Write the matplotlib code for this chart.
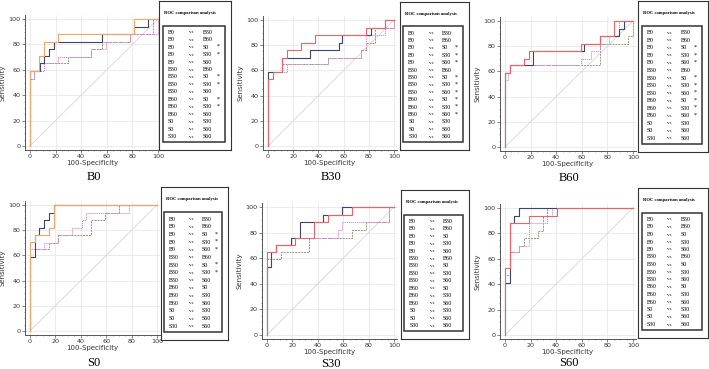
import matplotlib
matplotlib.use("Agg")
import matplotlib.pyplot as plt
from matplotlib.patches import Rectangle
from matplotlib.ticker import MultipleLocator

W, H = 709, 369

panel_names = ["B0", "B30", "B60", "S0", "S30", "S60"]

# ROC curve corners: x = 100-Specificity, y = Sensitivity
# order of curves in each panel: dark, warm, pink dotted, olive dashed
b0_fpr = [[0, 0, 8, 11, 15, 19, 56, 81, 92, 100],
          [0, 0, 7, 11, 22, 81, 100],
          [0, 0, 3, 11, 22, 48, 59, 78, 100],
          [0, 0, 3, 8, 30, 48, 56, 78, 96, 100]]
b0_tpr = [[0, 59, 65, 71, 76, 82, 88, 94, 100, 100],
          [0, 59, 71, 82, 88, 100, 100],
          [0, 53, 59, 65, 70, 76, 82, 88, 100],
          [0, 53, 59, 65, 70, 76, 82, 88, 100, 100]]

b30_fpr = [[0, 0, 11, 33, 56, 59, 78, 82, 93, 100],
           [0, 0, 4, 11, 15, 26, 37, 78, 93, 100],
           [0, 0, 4, 15, 48, 74, 78, 93, 100],
           [0, 0, 11, 41, 48, 74, 78, 85, 100]]
b30_tpr = [[0, 59, 70, 76, 82, 88, 88, 94, 100, 100],
           [0, 53, 59, 70, 76, 82, 88, 94, 100, 100],
           [0, 53, 59, 65, 70, 76, 88, 94, 100],
           [0, 59, 65, 65, 70, 76, 82, 94, 100]]

b60_fpr = [[0, 0, 4, 22, 62, 74, 89, 93, 100],
           [0, 0, 4, 15, 19, 59, 74, 85, 100],
           [0, 0, 2, 4, 59, 67, 74, 81, 89, 100],
           [0, 0, 4, 74, 96, 100]]
b60_tpr = [[0, 59, 65, 76, 82, 88, 94, 100, 100],
           [0, 59, 65, 70, 76, 82, 88, 100, 100],
           [0, 53, 59, 65, 70, 76, 82, 88, 100, 100],
           [0, 59, 65, 82, 88, 100]]

s0_fpr = [[0, 0, 4, 7, 11, 15, 19, 100],
          [0, 0, 4, 15, 19, 100],
          [0, 0, 11, 22, 33, 41, 44, 78, 100],
          [0, 0, 4, 15, 22, 48, 59, 70, 100]]
s0_tpr = [[0, 59, 76, 82, 88, 94, 100, 100],
          [0, 71, 76, 82, 100, 100],
          [0, 65, 70, 76, 82, 88, 94, 100, 100],
          [0, 59, 65, 70, 76, 88, 94, 100, 100]]

s30_fpr = [[0, 0, 3, 7, 19, 26, 44, 59, 100],
           [0, 0, 7, 22, 37, 48, 67, 100],
           [0, 0, 7, 22, 56, 59, 96, 100],
           [0, 0, 11, 33, 67, 78, 96, 100]]
s30_tpr = [[0, 53, 65, 70, 76, 88, 94, 100, 100],
           [0, 65, 70, 76, 88, 94, 100, 100],
           [0, 65, 70, 76, 82, 88, 100, 100],
           [0, 59, 65, 76, 82, 88, 100, 100]]

s60_fpr = [[0, 0, 4, 7, 11, 100],
           [0, 0, 4, 19, 41, 100],
           [0, 0, 4, 11, 19, 33, 37, 100],
           [0, 0, 4, 11, 15, 26, 30, 33, 100]]
s60_tpr = [[0, 41, 88, 94, 100, 100],
           [0, 53, 88, 94, 100, 100],
           [0, 41, 65, 70, 88, 94, 100, 100],
           [0, 47, 65, 70, 76, 82, 94, 100, 100]]

all_fpr = [b0_fpr, b30_fpr, b60_fpr, s0_fpr, s30_fpr, s60_fpr]
all_tpr = [b0_tpr, b30_tpr, b60_tpr, s0_tpr, s30_tpr, s60_tpr]

pairs = [("B0", "B30"), ("B0", "B60"), ("B0", "S0"), ("B0", "S30"), ("B0", "S60"),
         ("B30", "B60"), ("B30", "S0"), ("B30", "S30"), ("B30", "S60"),
         ("B60", "S0"), ("B60", "S30"), ("B60", "S60"),
         ("S0", "S30"), ("S0", "S60"), ("S30", "S60")]

# significant comparisons (index into pairs) per panel
signif = [[2, 3, 6, 7, 9, 10],
          [2, 3, 4, 6, 7, 8, 9, 10, 11],
          [2, 3, 4, 6, 7, 8, 9, 10, 11],
          [2, 3, 4, 6, 7],
          [],
          []]

# layout in pixels: (x of 0, x of 100, y of 100, y of 0)
plot_px = [(30, 158, 19, 146), (268, 394, 20, 146), (505, 633, 21, 147),
           (30, 157, 205, 331), (267, 394, 207, 335), (505, 633, 208, 335)]
# legend box: (left, right, top, bottom)
legend_px = [(159, 231, 1, 150), (400, 469, 2, 150), (638, 708, 1, 152),
             (161, 228, 187, 340), (401, 469, 190, 339), (638, 708, 188, 338)]
label_y = [177, 177, 178, 363, 364, 363]

dark = "#3c4664"
warm_cols = ["#eba86c", "#e8666a", "#e8666a", "#eba86c", "#e8666a", "#e8666a"]
pink = "#d98ac8"
olive = "#8f9a78"

fig = plt.figure(figsize=(W / 100, H / 100), dpi=100)
fig.patch.set_facecolor("white")

XL, YL = (-4, 102), (-3, 103)


def px_rect(left, right, top, bottom):
    return [left / W, 1 - bottom / H, (right - left) / W, (bottom - top) / H]


for i in range(6):
    x0, x100, y100, y0 = plot_px[i]
    sx = (x100 - x0) / 100
    sy = (y0 - y100) / 100
    ax = fig.add_axes(px_rect(x0 + XL[0] * sx, x0 + XL[1] * sx,
                              y0 - YL[1] * sy, y0 - YL[0] * sy))
    ax.set_xlim(*XL)
    ax.set_ylim(*YL)
    ax.xaxis.set_major_locator(MultipleLocator(20))
    ax.yaxis.set_major_locator(MultipleLocator(20))
    ax.xaxis.set_minor_locator(MultipleLocator(5))
    ax.yaxis.set_minor_locator(MultipleLocator(5))
    ax.grid(True, which="major", color="#e4e4e4", lw=0.5)
    ax.set_axisbelow(True)
    for s in ["top", "right"]:
        ax.spines[s].set_visible(False)
    for s in ["left", "bottom"]:
        ax.spines[s].set_color("#555555")
        ax.spines[s].set_linewidth(0.7)
    ax.tick_params(which="major", length=2, width=0.5, color="#555555",
                   labelsize=4.6, pad=1, labelcolor="#333333")
    ax.tick_params(which="minor", length=1, width=0.4, color="#555555")

    ax.plot([0, 100], [0, 100], color="#d6d6d6", lw=0.6)

    fpr, tpr = all_fpr[i], all_tpr[i]
    styles = [dict(color=dark, lw=0.8, ls="-"),
              dict(color=warm_cols[i], lw=0.8, ls="-"),
              dict(color=pink, lw=0.7, ls=(0, (1.2, 0.8))),
              dict(color=olive, lw=0.7, ls=(0, (2.0, 1.0)))]
    for k in [3, 2, 0, 1]:
        ax.step(fpr[k], tpr[k], where="post", **styles[k])

    ax.set_xlabel("100-Specificity", fontsize=5, labelpad=0.5, color="#333333")
    ax.set_ylabel("Sensitivity", fontsize=5, labelpad=2, color="#333333")

    fig.text((x0 + x100) / 2 / W, 1 - label_y[i] / H, panel_names[i],
             ha="center", va="center", fontsize=9, family="Liberation Serif")

    # legend box
    l, r, t, b = legend_px[i]
    lax = fig.add_axes(px_rect(l, r, t, b))
    lax.set_xlim(0, r - l)
    lax.set_ylim(b - t, 0)
    lax.set_xticks([])
    lax.set_yticks([])
    for s in lax.spines.values():
        s.set_linewidth(0.8)
        s.set_color("#333333")
    bw, bh = r - l, b - t
    lax.text(bw * 0.07, bh * 0.08, "ROC comparison analysis", fontsize=3.3,
             fontweight="bold", family="Liberation Serif", va="center")
    lax.add_patch(Rectangle((bw * 0.05, bh * 0.165), bw * 0.86, bh * 0.78,
                            fill=False, lw=1.1, ec="#333333"))
    for j, (a, c) in enumerate(pairs):
        yy = bh * 0.21 + j * bh * 0.05
        lax.text(bw * 0.12, yy, a, fontsize=4.3, family="Liberation Serif", va="center")
        lax.text(bw * 0.42, yy, "vs", fontsize=3.6, family="Liberation Serif", va="center")
        lax.text(bw * 0.61, yy, c, fontsize=4.3, family="Liberation Serif", va="center")
        if j in signif[i]:
            lax.text(bw * 0.80, yy - 0.6, "*", fontsize=4.3,
                     family="Liberation Serif", va="center")

fig.savefig("out.png", dpi=100)
